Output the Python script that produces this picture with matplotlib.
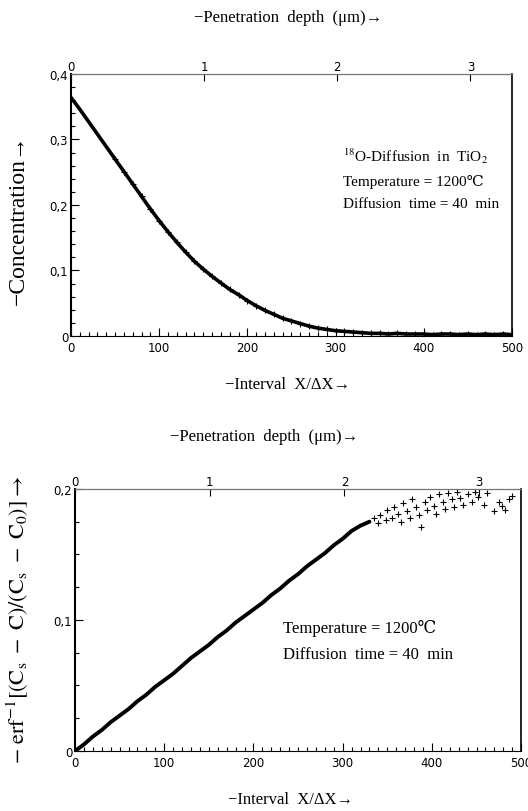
import numpy as np
import matplotlib
matplotlib.use("Agg")
import matplotlib.pyplot as plt
from matplotlib.ticker import MultipleLocator, FuncFormatter

plt.rcParams['mathtext.fontset'] = 'stix'

conc_x = np.arange(0, 510, 10)
conc_y = [0.364, 0.346, 0.327, 0.308, 0.289, 0.270, 0.251, 0.232, 0.213, 0.194,
          0.176, 0.159, 0.143, 0.128, 0.114, 0.102, 0.091, 0.081, 0.071, 0.063,
          0.054, 0.046, 0.039, 0.033, 0.027, 0.023, 0.019, 0.015, 0.012, 0.010,
          0.008, 0.007, 0.006, 0.005, 0.004, 0.004, 0.003, 0.004, 0.003, 0.003,
          0.003, 0.002, 0.003, 0.003, 0.002, 0.003, 0.002, 0.003, 0.002, 0.003,
          0.002]

# inverse erf transform, linear part
erf_x = np.arange(0, 340, 10)
erf_y = [0.000, 0.005, 0.011, 0.016, 0.022, 0.027, 0.032, 0.038, 0.043, 0.049,
         0.054, 0.059, 0.065, 0.071, 0.076, 0.081, 0.087, 0.092, 0.098, 0.103,
         0.108, 0.113, 0.119, 0.124, 0.130, 0.135, 0.141, 0.146, 0.151, 0.157,
         0.162, 0.168, 0.172, 0.175]

# scattered tail
tail_x = [335, 340, 342, 348, 350, 355, 358, 362, 365, 368, 372, 375, 378, 382,
          385, 388, 392, 395, 398, 402, 405, 408, 412, 415, 418, 422, 425, 428,
          432, 435, 440, 445, 448, 452, 458, 462, 470, 475, 478, 482, 486, 490]
tail_y = [0.178, 0.174, 0.180, 0.176, 0.184, 0.178, 0.186, 0.181, 0.175, 0.189,
          0.183, 0.178, 0.192, 0.186, 0.180, 0.171, 0.190, 0.184, 0.194, 0.187,
          0.181, 0.196, 0.190, 0.185, 0.197, 0.192, 0.186, 0.198, 0.193, 0.188,
          0.196, 0.190, 0.198, 0.194, 0.188, 0.197, 0.183, 0.190, 0.187, 0.184,
          0.192, 0.195]

INT_PER_UM = 151.0
depth_ticks = [0, 1, 2, 3]

serif = ['Liberation Serif', 'DejaVu Serif']
comma = FuncFormatter(lambda v, p: "0" if v == 0 else ("%.1f" % v).replace(".", ","))


def style_axes(ax, ymax, ymajor, yminor):
    ax.set_xlim(0, 500)
    ax.set_ylim(0, ymax)
    ax.xaxis.set_major_locator(MultipleLocator(100))
    ax.xaxis.set_minor_locator(MultipleLocator(10))
    ax.yaxis.set_major_locator(MultipleLocator(ymajor))
    ax.yaxis.set_minor_locator(MultipleLocator(yminor))
    ax.yaxis.set_major_formatter(comma)
    ax.tick_params(which='both', direction='in', labelsize=8.5, width=0.8)
    ax.tick_params(which='major', length=6)
    ax.tick_params(which='minor', length=3)
    ax.tick_params(axis='y', pad=2)
    ax.spines['top'].set_color('0.45')
    ax.spines['left'].set_linewidth(1.5)
    ax.spines['right'].set_linewidth(1.2)
    ax.spines['bottom'].set_linewidth(0.8)
    sec = ax.secondary_xaxis('top', functions=(lambda x: x / INT_PER_UM,
                                               lambda d: d * INT_PER_UM))
    sec.set_xticks(depth_ticks)
    sec.tick_params(direction='in', length=5, labelsize=8.5, pad=1, width=0.8)
    sec.spines['top'].set_color('0.45')
    return sec


fig = plt.figure(figsize=(5.28, 8.12), dpi=100)

# top panel: concentration profile
ax1 = fig.add_axes([0.1345, 0.585, 0.835, 0.3227])
style_axes(ax1, 0.4, 0.1, 0.02)
ax1.plot(conc_x, conc_y, color='k', lw=2.6, solid_capstyle='round')
ax1.plot(conc_x[5:], conc_y[5:], '+', color='k', ms=4, mew=0.8)
ax1.text(0.617, 0.69, r"$^{18}$O-Diffusion  in  TiO$_2$", transform=ax1.transAxes,
         family=serif, fontsize=11, va='center')
ax1.text(0.617, 0.592, "Temperature = 1200℃", transform=ax1.transAxes,
         family=serif, fontsize=11, va='center')
ax1.text(0.617, 0.504, "Diffusion  time = 40  min", transform=ax1.transAxes,
         family=serif, fontsize=11, va='center')

# bottom panel: erf^-1 transform
ax2 = fig.add_axes([0.142, 0.0739, 0.845, 0.3227])
style_axes(ax2, 0.2, 0.1, 0.025)
ax2.plot(erf_x, erf_y, color='k', lw=2.8, solid_capstyle='round')
ax2.plot(tail_x, tail_y, '+', color='k', ms=4, mew=0.8)
ax2.text(0.466, 0.473, "Temperature = 1200℃", transform=ax2.transAxes,
         family=serif, fontsize=12, va='center')
ax2.text(0.466, 0.37, "Diffusion  time = 40  min", transform=ax2.transAxes,
         family=serif, fontsize=12, va='center')

# axis captions
fig.text(0.545, 1 - 18 / 812, "−Penetration  depth  (μm)→", family=serif,
         fontsize=12, ha='center', va='center')
fig.text(0.545, 1 - 385 / 812, "−Interval  X/ΔX→", family=serif,
         fontsize=12, ha='center', va='center')
fig.text(0.5, 1 - 437 / 812, "−Penetration  depth  (μm)→", family=serif,
         fontsize=12, ha='center', va='center')
fig.text(0.55, 1 - 800 / 812, "−Interval  X/ΔX→", family=serif,
         fontsize=12, ha='center', va='center')
fig.text(18 / 528, 1 - 220 / 812, "−Concentration→", family=serif,
         fontsize=17, ha='center', va='center', rotation=90)
fig.text(18 / 528, 1 - 620 / 812,
         r"$-\ \mathrm{erf}^{-1}[(\mathrm{C_s}\ -\ \mathrm{C})/(\mathrm{C_s}\ -\ \mathrm{C_0})]\rightarrow$",
         fontsize=16, ha='center', va='center', rotation=90)

fig.savefig("out.png", dpi=100)
